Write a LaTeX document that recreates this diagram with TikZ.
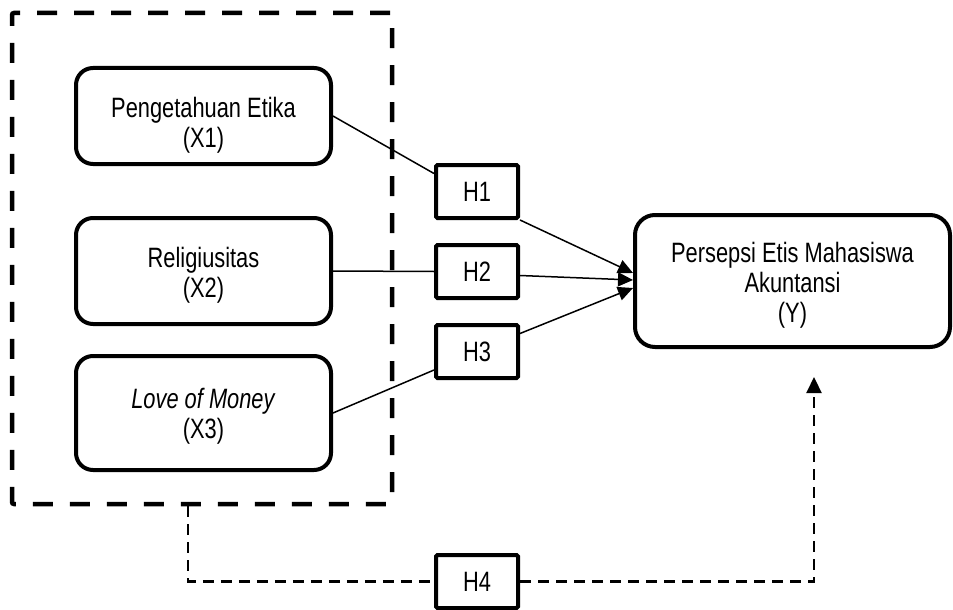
\documentclass[tikz,border=0pt]{standalone}
\usepackage{fontspec}
\setmainfont{Liberation Sans}[FakeStretch=0.78]
\usetikzlibrary{arrows.meta,calc}
\begin{document}
\begin{tikzpicture}[x=1pt,y=-1pt,
 txt/.style={font=\fontsize{28}{30}\selectfont},
 varbox/.style={draw,line width=4pt,rounded corners=17pt,align=center,inner sep=0pt,txt},
 hbox/.style={draw,line width=4pt,rounded corners=1.5pt,minimum width=82pt,minimum height=53pt,inner sep=0pt,txt},
 link/.style={line width=1.5pt},
 arr/.style={link,-{Triangle[length=15pt,width=14pt]}},
 group/.style={draw,line width=4.5pt,dash pattern=on 20pt off 17pt,rounded corners=2pt,inner sep=0pt},
 dlink/.style={line width=2.2pt,dash pattern=on 11pt off 7pt}]
\useasboundingbox (0,0) rectangle (953,610);
\fill[white] (0,0) rectangle (953,610);

\node[group,minimum width=380pt,minimum height=491pt] (grp) at (202,258.5) {};

\node[varbox,minimum width=255pt,minimum height=96pt,text height=68pt,text depth=6pt] (x1) at (203.5,116) {Pengetahuan Etika\\(X1)};
\node[varbox,minimum width=255pt,minimum height=106pt,text height=58pt,text depth=6pt] (x2) at (203.5,271) {Religiusitas\\(X2)};
\node[varbox,minimum width=255pt,minimum height=114pt,text height=56pt,text depth=6pt] (x3) at (203.5,413) {\textit{Love of Money}\\(X3)};

\node[varbox,minimum width=315pt,minimum height=132pt,rounded corners=20pt,text height=88pt,text depth=6pt] (y) at (792.5,281) {Persepsi Etis Mahasiswa\\Akuntansi\\(Y)};

\node[hbox] (h1) at (477,191.5) {H1};
\node[hbox] (h2) at (477,271.5) {H2};
\node[hbox] (h3) at (477,351.5) {H3};
\node[hbox] (h4) at (477,581.5) {H4};

\draw[link] (x1.east) -- ($(h1.west)+(0,-18)$);
\draw[arr] (h1.south east) -- ($(y.west)+(0,-8)$);
\draw[link] (x2.east) -- (h2.west);
\draw[arr] ($(h2.east)+(0,4)$) -- ($(y.west)+(0,-1)$);
\draw[link] (x3.east) -- ($(h3.west)+(0,18.5)$);
\draw[arr] ($(h3.east)+(0,-18)$) -- ($(y.west)+(0,7)$);

\coordinate (gout) at ($(grp.south)+(-14,0)$);
\coordinate (yin) at ($(y.south)+(21.5,28)$);
\draw[dlink] (gout) |- (h4.west);
\draw[dlink,-{Triangle[length=16pt,width=15pt]}] (h4.east) -| (yin);
\end{tikzpicture}
\end{document}
